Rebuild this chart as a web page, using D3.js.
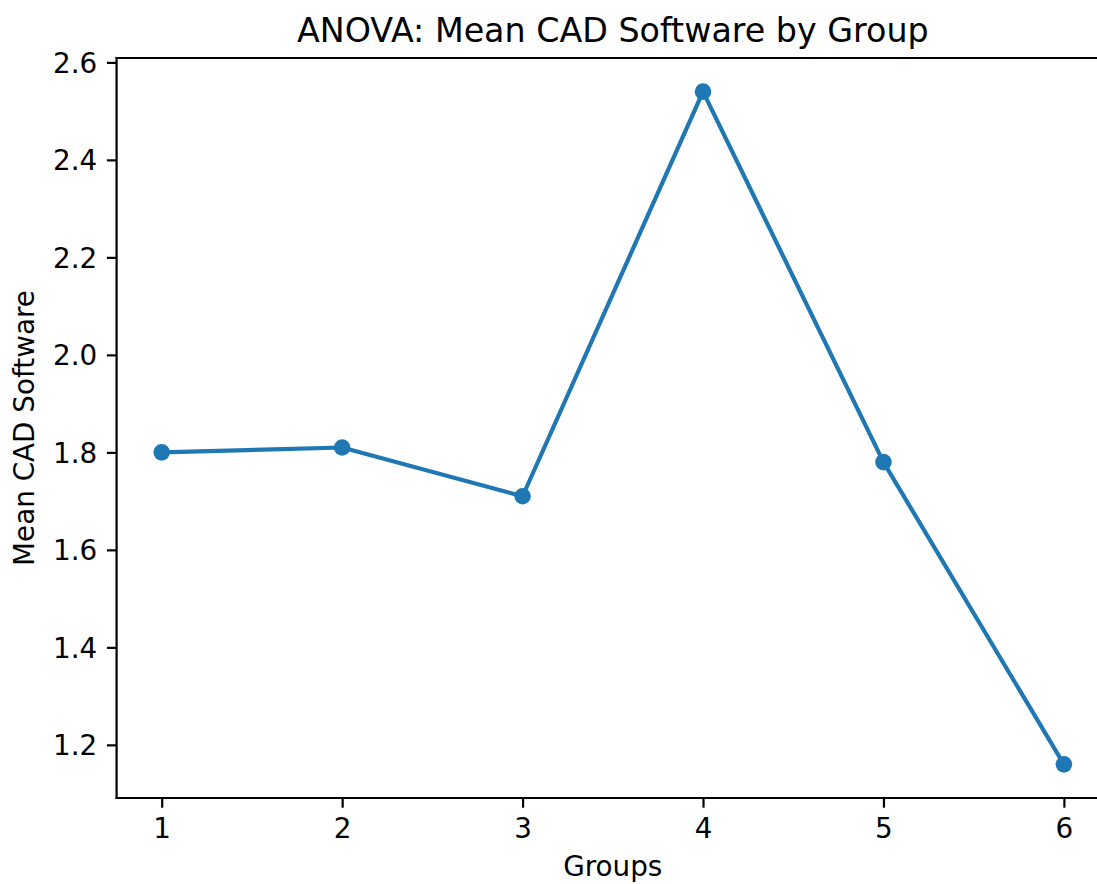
<!DOCTYPE html>
<html>
<head>
<meta charset="utf-8">
<script src="https://cdn.jsdelivr.net/npm/d3@7"></script>
<style>
  html, body { margin: 0; padding: 0; background: #fff; }
  svg { display: block; font-family: "DejaVu Sans", sans-serif; }
</style>
</head>
<body>
<svg id="chart" width="1097" height="884"></svg>
<script>
// Group means for the CAD software score
const groups = [1, 2, 3, 4, 5, 6];
const means = [1.80, 1.81, 1.71, 2.54, 1.78, 1.16];
const yTicks = [1.2, 1.4, 1.6, 1.8, 2.0, 2.2, 2.4, 2.6];
const titleText = "ANOVA: Mean CAD Software by Group";
const xLabel = "Groups";
const yLabel = "Mean CAD Software";

(function () {
  const svg = d3.select("#chart");
  const color = "#1f77b4";

  // plot area (right edge runs past the canvas)
  const plotL = 116.6, plotR = 1109, plotT = 58, plotB = 798;

  // 5% padding on both axes, matplotlib style
  const xPad = (d3.max(groups) - d3.min(groups)) * 0.05;
  const yMin = d3.min(means), yMax = d3.max(means);
  const yPad = (yMax - yMin) * 0.05;

  const x = d3.scaleLinear()
    .domain([d3.min(groups) - xPad, d3.max(groups) + xPad])
    .range([plotL, plotR]);
  const y = d3.scaleLinear()
    .domain([yMin - yPad, yMax + yPad])
    .range([plotB, plotT]);

  const tickLen = 9.7, tickPad = 9.7, fontSize = 27.8;

  // x axis
  const xAxis = svg.append("g")
    .attr("transform", `translate(0,${plotB})`)
    .call(d3.axisBottom(x).tickValues(groups).tickFormat(d3.format("d"))
      .tickSizeInner(tickLen).tickSizeOuter(0).tickPadding(tickPad));
  // y axis
  const yAxis = svg.append("g")
    .attr("transform", `translate(${plotL},0)`)
    .call(d3.axisLeft(y).tickValues(yTicks).tickFormat(d3.format(".1f"))
      .tickSizeInner(tickLen).tickSizeOuter(0).tickPadding(tickPad));

  [xAxis, yAxis].forEach(g => {
    g.select(".domain").remove();
    g.selectAll(".tick line").attr("stroke", "#000").attr("stroke-width", 2.2);
    g.selectAll(".tick text")
      .attr("fill", "#000")
      .style("font-size", fontSize + "px")
      .style("font-family", "DejaVu Sans, sans-serif");
  });
  xAxis.selectAll(".tick text").attr("dy", null).attr("y", tickLen + tickPad)
    .attr("dominant-baseline", "hanging");
  yAxis.selectAll(".tick text").attr("dy", "0.36em");

  // spines
  const spines = svg.append("g").attr("stroke", "#000").attr("stroke-width", 2.2)
    .attr("fill", "none").attr("stroke-linecap", "square");
  spines.append("line").attr("x1", plotL).attr("x2", plotR).attr("y1", plotT).attr("y2", plotT);
  spines.append("line").attr("x1", plotL).attr("x2", plotR).attr("y1", plotB).attr("y2", plotB);
  spines.append("line").attr("x1", plotL).attr("x2", plotL).attr("y1", plotT).attr("y2", plotB);
  spines.append("line").attr("x1", plotR).attr("x2", plotR).attr("y1", plotT).attr("y2", plotB);

  // line with markers
  const pts = groups.map((g, i) => ({ g, v: means[i] }));
  svg.append("path")
    .datum(pts)
    .attr("fill", "none")
    .attr("stroke", color)
    .attr("stroke-width", 4.2)
    .attr("stroke-linejoin", "round")
    .attr("d", d3.line().x(d => x(d.g)).y(d => y(d.v)));
  svg.append("g").selectAll("circle")
    .data(pts)
    .join("circle")
    .attr("cx", d => x(d.g))
    .attr("cy", d => y(d.v))
    .attr("r", 8.3)
    .attr("fill", color);

  // title and axis labels
  svg.append("text")
    .attr("x", (plotL + plotR) / 2)
    .attr("y", 41.5)
    .attr("text-anchor", "middle")
    .style("font-size", "33.3px")
    .attr("fill", "#000")
    .text(titleText);
  svg.append("text")
    .attr("x", (plotL + plotR) / 2)
    .attr("y", 876)
    .attr("text-anchor", "middle")
    .style("font-size", fontSize + "px")
    .attr("fill", "#000")
    .text(xLabel);
  svg.append("text")
    .attr("transform", `translate(33.5,${(plotT + plotB) / 2}) rotate(-90)`)
    .attr("text-anchor", "middle")
    .style("font-size", fontSize + "px")
    .attr("fill", "#000")
    .text(yLabel);
})();
</script>
</body>
</html>
